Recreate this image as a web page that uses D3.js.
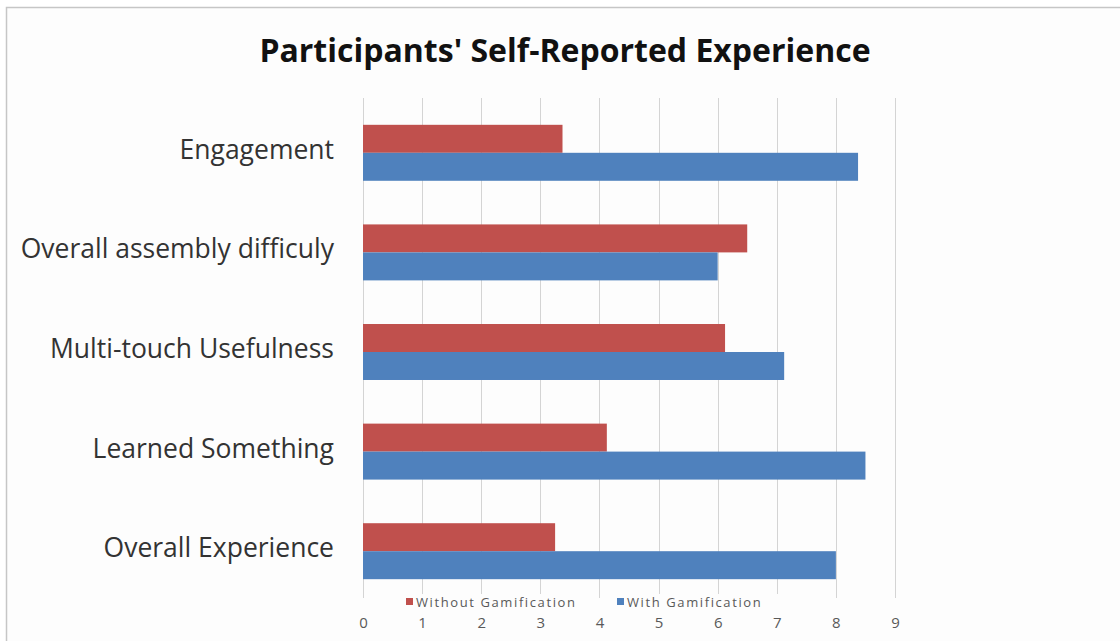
<!DOCTYPE html>
<html>
<head>
<meta charset="utf-8">
<script src="https://cdn.jsdelivr.net/npm/d3@7"></script>
<style>
  html, body { margin: 0; padding: 0; background: #ffffff; }
  svg { display: block; }
</style>
</head>
<body>
<svg id="chart" width="1120" height="641"></svg>
<script>
// Survey categories, top to bottom
const categories = [
  "Engagement",
  "Overall assembly difficuly",
  "Multi-touch Usefulness",
  "Learned Something",
  "Overall Experience"
];
const seriesNames = ["Without Gamification", "With Gamification"];
const withoutGamification = [3.375, 6.5, 6.125, 4.125, 3.25];
const withGamification = [8.375, 6.0, 7.125, 8.5, 8.0];
const tickValues = [0, 1, 2, 3, 4, 5, 6, 7, 8, 9];
const titleText = "Participants' Self-Reported Experience";

const colors = { "Without Gamification": "#c0504d", "With Gamification": "#4f81bd" };
const font = "'Open Sans', Lato, sans-serif";

const rows = categories.map((c, i) => ({
  category: c,
  values: [
    { series: seriesNames[0], value: withoutGamification[i] },
    { series: seriesNames[1], value: withGamification[i] }
  ]
}));

const svg = d3.select("#chart");

// Chart frame
svg.append("rect")
  .attr("x", 6.5).attr("y", 7.5)
  .attr("width", 1130).attr("height", 650)
  .attr("fill", "#fdfdfd")
  .attr("stroke", "#c6c6c6").attr("stroke-width", 1.5);

const plot = { left: 363, right: 895, top: 103, bottom: 601 };

const x = d3.scaleLinear().domain([0, 9]).range([plot.left, plot.right]);
const y = d3.scaleBand().domain(categories)
  .range([plot.top, plot.bottom])
  .paddingInner(0.438).paddingOuter(0.219);
const ySeries = d3.scaleBand().domain(seriesNames).range([0, y.bandwidth()]);

// Vertical gridlines
svg.append("g").selectAll("line")
  .data(tickValues).join("line")
  .attr("x1", d => Math.round(x(d)) + 0.5)
  .attr("x2", d => Math.round(x(d)) + 0.5)
  .attr("y1", plot.top - 5).attr("y2", plot.bottom - 3)
  .attr("stroke", "#d4d4d4").attr("stroke-width", 1);

// Bars
const groups = svg.append("g").selectAll("g")
  .data(rows).join("g")
  .attr("transform", d => `translate(0,${y(d.category)})`);

groups.selectAll("rect")
  .data(d => d.values).join("rect")
  .attr("x", x(0))
  .attr("y", d => ySeries(d.series))
  .attr("width", d => x(d.value) - x(0))
  .attr("height", ySeries.bandwidth())
  .attr("fill", d => colors[d.series]);

// Category labels
svg.append("g").selectAll("text")
  .data(categories).join("text")
  .attr("x", 334)
  .attr("y", d => y(d) + y.bandwidth() / 2 - 4)
  .attr("text-anchor", "end")
  .attr("dominant-baseline", "central")
  .attr("font-family", font)
  .attr("font-size", 26.5)
  .attr("fill", "#333333")
  .text(d => d);

// X axis tick labels
const xAxis = d3.axisBottom(x).tickValues(tickValues).tickSize(0).tickPadding(0);
const axisG = svg.append("g")
  .attr("transform", `translate(0,${plot.bottom + 16})`)
  .call(xAxis);
axisG.select(".domain").remove();
axisG.selectAll("text")
  .attr("font-family", font)
  .attr("font-size", 15)
  .attr("fill", "#595959");

// Legend
const legendItems = [
  { name: seriesNames[0], x: 406 },
  { name: seriesNames[1], x: 617 }
];
const legend = svg.append("g").selectAll("g")
  .data(legendItems).join("g")
  .attr("transform", d => `translate(${d.x},592)`);
legend.append("rect")
  .attr("x", -2).attr("y", 2).attr("width", 166).attr("height", 16)
  .attr("fill", "#fdfdfd");
legend.append("rect")
  .attr("x", 0).attr("y", 6).attr("width", 7).attr("height", 7)
  .attr("fill", d => colors[d.name]);
legend.append("text")
  .attr("x", 10).attr("y", 9.5)
  .attr("dominant-baseline", "central")
  .attr("font-family", font)
  .attr("font-size", 13)
  .attr("letter-spacing", 1.6)
  .attr("fill", "#595959")
  .text(d => d.name);

// Title
svg.append("text")
  .attr("x", 565).attr("y", 49)
  .attr("text-anchor", "middle")
  .attr("dominant-baseline", "central")
  .attr("font-family", font)
  .attr("font-weight", "bold")
  .attr("font-size", 32)
  .attr("fill", "#111111")
  .text(titleText);
</script>
</body>
</html>
